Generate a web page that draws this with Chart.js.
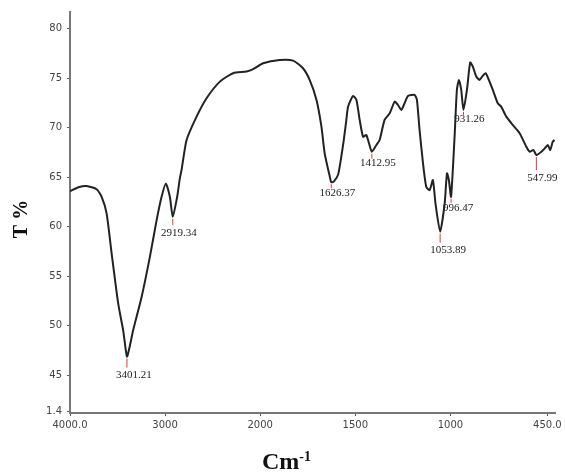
<!DOCTYPE html>
<html>
<head>
<meta charset="utf-8">
<script src="https://cdn.jsdelivr.net/npm/chart.js@4/dist/chart.umd.min.js"></script>
<style>
    html, body { margin: 0; padding: 0; background: #fff; }
    #wrap { width: 565px; height: 472px; }
</style>
</head>
<body>
<div id="wrap"><canvas id="ftir" width="565" height="472"></canvas></div>
<script>
// spectrum (cm-1, %T)
var wavenumbers = [4000, 3910, 3825, 3720, 3667, 3615, 3562, 3493, 3440, 3401.21, 3370, 3335, 3247, 3160, 3089, 3037, 2992, 2950, 2919.34, 2873,
    2845, 2827, 2774, 2669, 2564, 2424, 2285, 2144, 2075, 1985, 1897, 1827, 1775, 1740, 1704, 1678, 1661, 1634, 1626.37, 1612,
    1590, 1564, 1547, 1538, 1512, 1494, 1477, 1459, 1442, 1428, 1412.95, 1389, 1372, 1346, 1319, 1293, 1276, 1258, 1241, 1223,
    1188, 1176, 1162, 1144, 1127, 1109, 1092, 1078, 1053.89, 1030, 1018, 1008, 996.47, 978, 966, 955, 943, 931.26, 913, 896,
    882, 864, 847, 833, 815, 798, 777, 751, 733, 706, 672, 636, 601, 584, 563, 547.99, 522, 505, 488, 475, 462, 452];
var transmittance = [63.6, 64.0, 64.12, 63.8, 63.04, 61.36, 57.3, 52.25, 49.5, 46.9, 48.0, 49.6, 52.92, 56.97, 60.68, 63.04, 64.39, 63.04, 61.0, 63.04,
    64.9, 65.74, 68.77, 71.13, 72.99, 74.67, 75.52, 75.68, 75.92, 76.53, 76.86, 76.79, 76.02, 74.84, 72.82, 70.12, 67.43, 65.06, 64.5, 64.6,
    65.3, 68.3, 70.8, 72.14, 73.22, 72.82, 70.8, 69.1, 69.28, 68.44, 67.59, 68.27, 68.77, 70.8, 71.47, 72.65, 72.31, 71.81, 72.48, 73.22,
    73.32, 72.82, 69.78, 66.41, 64.05, 63.71, 64.73, 62.3, 59.5, 62.37, 65.4, 64.73, 63.04, 69.1, 73.8, 74.84, 73.83, 71.81, 73.83, 76.6,
    76.19, 75.18, 74.84, 75.18, 75.52, 74.84, 73.83, 72.48, 72.14, 71.13, 70.29, 69.45, 68.1, 67.59, 67.76, 67.25, 67.59, 67.9, 68.27, 67.76, 68.6, 68.77];

// labelled peaks
var peakWavenumbers = [3401.21, 2919.34, 1626.37, 1412.95, 1053.89, 996.47, 931.26, 547.99];
var peakLabels = ['3401.21', '2919.34', '1626.37', '1412.95', '1053.89', '996.47', '931.26', '547.99'];

// axis ticks
var xTickValues = [4000, 3000, 2000, 1500, 1000, 490];
var xTickLabels = ['4000.0', '3000', '2000', '1500', '1000', '450.0'];
var yTickValues = [41.4, 45, 50, 55, 60, 65, 70, 75, 80];
var yTickLabels = ['1.4', '45', '50', '55', '60', '65', '70', '75', '80'];

// the instrument plot doubles the scale below 2000 cm-1
function toAxis(w) {
    if (w >= 2000) {
        return 4000 - w;
    }
    return 2000 + 2 * (2000 - w);
}

var points = wavenumbers.map(function(w, i) {
    return {x: toAxis(w), y: transmittance[i]};
});

// label placement: [dx, red tick length, label dy]
var peakStyle = [[7, 9, 19], [6, 6, 16], [6, 4, 11], [6, 5, 11], [8, 9, 18], [7, 4, 11], [6, 3, 9], [6, 13, 23]];

var peakPlugin = {
    id: 'peaks',
    afterDatasetsDraw: function(c) {
        var ctx = c.ctx;
        var xs = c.scales.x;
        var ys = c.scales.y;
        ctx.save();
        peakWavenumbers.forEach(function(w, i) {
            var idx = wavenumbers.indexOf(w);
            var px = xs.getPixelForValue(toAxis(w));
            var py = ys.getPixelForValue(transmittance[idx]);
            var st = peakStyle[i];
            ctx.strokeStyle = '#e8323a';
            ctx.lineWidth = 1;
            ctx.beginPath();
            ctx.moveTo(px, py + 2);
            ctx.lineTo(px, py + 2 + st[1]);
            ctx.stroke();
            ctx.fillStyle = '#222';
            ctx.font = '11px "Liberation Serif", serif';
            ctx.textAlign = 'center';
            ctx.textBaseline = 'middle';
            ctx.fillText(peakLabels[i], px + st[0], py + st[2]);
        });
        ctx.restore();
    },
    afterDraw: function(c) {
        var ctx = c.ctx;
        ctx.save();
        ctx.fillStyle = '#111';
        // y title
        ctx.translate(22, 219);
        ctx.rotate(-Math.PI / 2);
        ctx.font = 'bold 20px "Liberation Serif", serif';
        ctx.textAlign = 'center';
        ctx.textBaseline = 'middle';
        ctx.fillText('T %', 0, 0);
        ctx.restore();
        // x title with superscript
        ctx.save();
        ctx.fillStyle = '#111';
        ctx.textAlign = 'left';
        ctx.textBaseline = 'alphabetic';
        ctx.font = 'bold 24px "Liberation Serif", serif';
        ctx.fillText('Cm', 262, 469);
        var wcm = ctx.measureText('Cm').width;
        ctx.font = 'bold 14px "Liberation Serif", serif';
        ctx.fillText('-1', 262 + wcm, 461);
        ctx.restore();
    }
};

var bgPlugin = {
    id: 'bg',
    beforeDraw: function(c) {
        var ctx = c.ctx;
        ctx.save();
        ctx.fillStyle = '#fff';
        ctx.fillRect(0, 0, c.width, c.height);
        ctx.restore();
    }
};

new Chart(document.getElementById('ftir'), {
    type: 'line',
    data: {
        datasets: [{
            data: points,
            borderColor: '#222',
            borderWidth: 2,
            pointRadius: 0,
            tension: 0.2,
            fill: false
        }]
    },
    options: {
        responsive: false,
        animation: false,
        events: [],
        layout: { padding: { top: 12, right: 10, left: 0, bottom: 0 } },
        plugins: { legend: { display: false }, tooltip: { enabled: false } },
        scales: {
            x: {
                type: 'linear',
                min: 0,
                max: toAxis(450),
                afterBuildTicks: function(scale) {
                    scale.ticks = xTickValues.map(function(w) { return {value: toAxis(w)}; });
                },
                afterFit: function(scale) { scale.height = 59; },
                grid: { display: true, drawOnChartArea: false, tickLength: 3, color: '#555' },
                border: { color: '#777', width: 2 },
                ticks: {
                    autoSkip: false,
                    maxRotation: 0,
                    padding: 3,
                    color: '#444',
                    font: { family: '"DejaVu Sans", sans-serif', size: 10 },
                    callback: function(v, i) { return xTickLabels[i]; }
                }
            },
            y: {
                min: 41.2,
                max: 81.7,
                afterBuildTicks: function(scale) {
                    scale.ticks = yTickValues.map(function(v) { return {value: v}; });
                },
                afterFit: function(scale) { scale.width = 70; },
                grid: { display: true, drawOnChartArea: false, tickLength: 3, color: '#555' },
                border: { color: '#777', width: 2 },
                ticks: {
                    autoSkip: false,
                    padding: 5,
                    color: '#444',
                    font: { family: '"DejaVu Sans", sans-serif', size: 10 },
                    callback: function(v, i) { return yTickLabels[i]; }
                }
            }
        }
    },
    plugins: [bgPlugin, peakPlugin]
});
</script>
</body>
</html>
